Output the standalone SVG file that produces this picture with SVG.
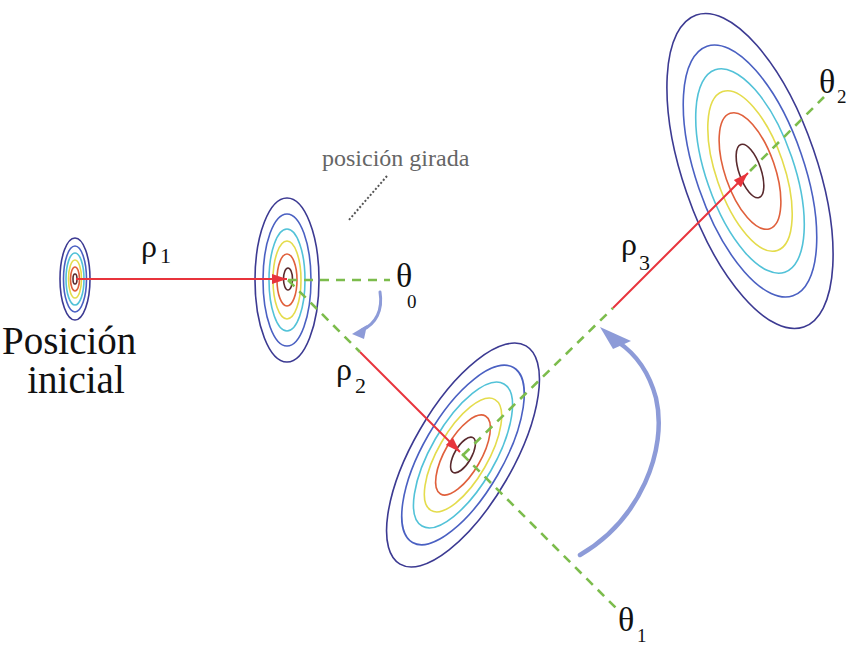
<svg xmlns="http://www.w3.org/2000/svg" width="848" height="646" viewBox="0 0 848 646">
<defs>
<style>
.r1{fill:none;stroke:#5a2a2e;stroke-width:1.6}
.r2{fill:none;stroke:#e0603c;stroke-width:1.6}
.r3{fill:none;stroke:#e4dc4c;stroke-width:1.6}
.r4{fill:none;stroke:#52c2d8;stroke-width:1.6}
.r5{fill:none;stroke:#4a60c2;stroke-width:1.6}
.r6{fill:none;stroke:#3c3a92;stroke-width:1.6}
.green{fill:none;stroke:#7cbc4c;stroke-width:2.6;stroke-dasharray:9 7}
.red{fill:none;stroke:#e8343c;stroke-width:2;marker-end:url(#ah)}
.blue{fill:none;stroke:#8d9bd8;stroke-linecap:round}
.bluehead{fill:#8d9bd8}
.lead{fill:none;stroke:#555;stroke-width:2;stroke-dasharray:2 2}
.t{fill:#111}
.g{fill:#666}
</style>
<marker id="ah" markerUnits="userSpaceOnUse" markerWidth="16" markerHeight="12" refX="15" refY="6" orient="auto">
<path d="M0,1 L15,6 L0,11 z" fill="#e8343c"/>
</marker>
</defs>
<rect width="848" height="646" fill="#fff"/>

<g id="dist-inicial">
<ellipse class="r6" cx="75" cy="279" rx="15" ry="41"/>
<ellipse class="r5" cx="75" cy="279" rx="11.5" ry="33"/>
<ellipse class="r4" cx="75" cy="279" rx="9" ry="26"/>
<ellipse class="r3" cx="75" cy="279" rx="6.5" ry="19"/>
<ellipse class="r2" cx="75" cy="279" rx="4.5" ry="12"/>
<ellipse class="r1" cx="75" cy="279" rx="2" ry="5"/>
</g>

<g id="dist-girada">
<ellipse class="r6" cx="287" cy="280" rx="32" ry="82"/>
<ellipse class="r5" cx="287" cy="280" rx="24" ry="66"/>
<ellipse class="r4" cx="287" cy="280" rx="18" ry="51"/>
<ellipse class="r3" cx="287" cy="280" rx="14" ry="39"/>
<ellipse class="r2" cx="287" cy="280" rx="10" ry="26"/>
<ellipse class="r1" cx="288" cy="279" rx="4.5" ry="11"/>
</g>

<g id="dist-3" transform="translate(463 455) rotate(-60)">
<ellipse class="r6" rx="126" ry="50"/>
<ellipse class="r5" rx="101" ry="40"/>
<ellipse class="r4" rx="82" ry="32"/>
<ellipse class="r3" rx="64" ry="25"/>
<ellipse class="r2" rx="45" ry="18"/>
<ellipse class="r1" rx="20" ry="8.5"/>
</g>

<g id="dist-4" transform="translate(750 171) rotate(71)">
<ellipse class="r6" rx="165" ry="67"/>
<ellipse class="r5" rx="132" ry="54"/>
<ellipse class="r4" rx="107" ry="44"/>
<ellipse class="r3" rx="84" ry="34"/>
<ellipse class="r2" rx="61" ry="25"/>
<ellipse class="r1" rx="28" ry="11"/>
</g>

<g id="connectors">
<path class="green" d="M288,280 H390"/>
<path class="green" d="M288,280 L360,352"/>
<path class="green" d="M462,454 L616,608"/>
<path class="green" d="M463,455 L613,308"/>
<path class="green" d="M750,171 L824,97"/>
<path class="red" d="M76,279 H287"/>
<path class="red" d="M360,352 L460,452"/>
<path class="red" d="M613,308 L748,173"/>
<path class="blue" stroke-width="3" d="M380,292 C383,310 376,324 362,330"/>
<polygon class="bluehead" points="352,334 367,325 364,339"/>
<path class="blue" stroke-width="4.5" d="M580,555 C640,520 668,450 656,398 C649,372 636,354 618,342"/>
<polygon class="bluehead" points="600,327 631,341 613,349"/>
<path class="lead" d="M387,176 L348,221"/>
</g>

<g id="labels" font-family="Liberation Serif, Times New Roman, DejaVu Serif, serif">
<text class="t" x="2" y="354" font-size="39">Posición</text>
<text class="t" x="76" y="393" font-size="39" text-anchor="middle">inicial</text>
<text class="g" x="322" y="166" font-size="24">posición girada</text>
<text class="t" x="141" y="257" font-size="32">ρ</text>
<text class="t" x="160" y="263" font-size="22">1</text>
<text class="t" x="336" y="380" font-size="32">ρ</text>
<text class="t" x="355" y="393" font-size="22">2</text>
<text class="t" x="621" y="255" font-size="32">ρ</text>
<text class="t" x="639" y="270" font-size="22">3</text>
<text class="t" x="396" y="287" font-size="34">θ</text>
<text class="t" x="407" y="308" font-size="19">0</text>
<text class="t" x="618" y="631" font-size="34">θ</text>
<text class="t" x="637" y="642" font-size="19">1</text>
<text class="t" x="819" y="93" font-size="34">θ</text>
<text class="t" x="837" y="103" font-size="19">2</text>
</g>
</svg>
